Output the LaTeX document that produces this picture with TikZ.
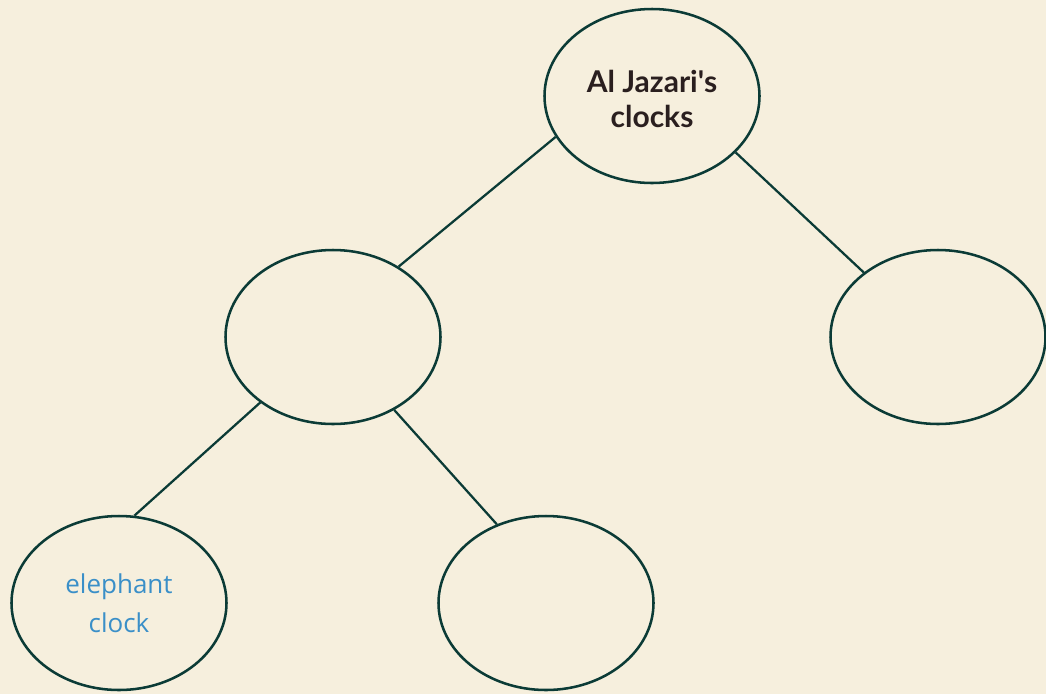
\documentclass[tikz,border=0pt]{standalone}
\usepackage{fontspec}
\setmainfont{Lato}
\newfontfamily\handfont{Open Sans}
\usetikzlibrary{shapes.geometric}
\definecolor{bgcream}{HTML}{F6EFDD}
\definecolor{edgeteal}{HTML}{0B3B36}
\definecolor{titlebrown}{HTML}{2A1F1F}
\definecolor{handblue}{HTML}{3A8FC8}
\newlength{\pxu}
\setlength{\pxu}{0.75pt}
\tikzset{
  bubble/.style={ellipse, draw=edgeteal, line width=1.9pt, minimum width=215\pxu, minimum height=174\pxu, inner sep=0pt, align=center},
  link/.style={draw=edgeteal, line width=1.7pt},
}
\begin{document}
\begin{tikzpicture}[x=\pxu, y=-\pxu]
\fill[bgcream] (0,0) rectangle (1046,694);
\useasboundingbox (0,0) rectangle (1046,694);
\node[bubble, text=titlebrown, font=\bfseries\fontsize{22.5}{26.5}\selectfont] (top) at (652,96) {\raisebox{-7\pxu}[\height][\depth]{\begin{tabular}{@{}c@{}}Al Jazari\textquotesingle s\\clocks\end{tabular}}};
\node[bubble] (mid) at (333,337) {};
\node[bubble] (right) at (938,337) {};
\node[bubble, text=handblue, font=\handfont\fontsize{19.5}{29}\selectfont] (bl) at (119,603) {elephant\\clock};
\node[bubble] (bm) at (546,603) {};
\draw[link] (top.203.5) -- (mid.47.6);
\draw[link] (top.326.6) -- (right.139.9);
\draw[link] (mid.222.9) -- (bl.80.2);
\draw[link] (mid.310.7) -- (bm.122.8);
\end{tikzpicture}
\end{document}
